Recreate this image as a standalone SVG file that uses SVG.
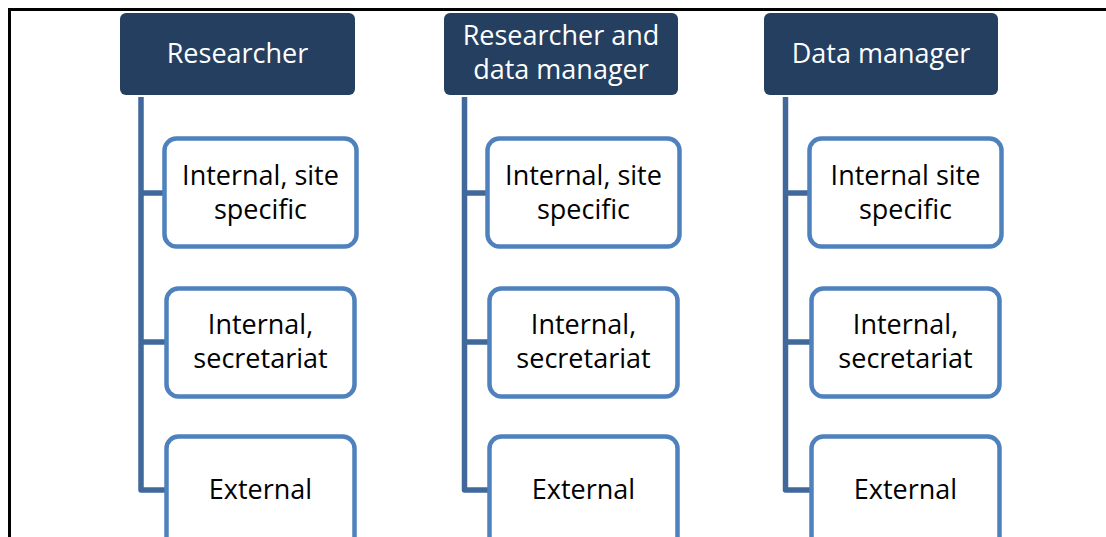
<svg xmlns="http://www.w3.org/2000/svg" width="1106" height="537" viewBox="0 0 1106 537">
<style>
.hdr{fill:#243F60;}
.hdr-t{fill:#FFFFFF;font-family:"Open Sans","Noto Sans","Liberation Sans",sans-serif;font-size:27px;text-anchor:middle;}
.box{fill:#FFFFFF;stroke:#4F81BD;stroke-width:4.5;}
.box-t{fill:#000000;font-family:"Open Sans","Noto Sans","Liberation Sans",sans-serif;font-size:27px;text-anchor:middle;}
.conn{fill:none;stroke:#41689B;stroke-width:5.5;stroke-linejoin:round;}
.frame{fill:none;stroke:#000000;stroke-width:3;}
</style>
<rect width="1106" height="537" fill="#FFFFFF"/>
<path class="frame" d="M9.5,537 V9.5 H1106"/>
<g id="connectors">
<path class="conn" d="M141,97 V490 H168 M141,193 H166 M141,342 H168"/>
<path class="conn" d="M464.5,97 V490 H491 M464.5,193 H489 M464.5,342 H491"/>
<path class="conn" d="M785.5,97 V490 H813 M785.5,193 H811 M785.5,342 H813"/>
</g>
<g id="h1"><rect class="hdr" x="120" y="13" width="235" height="82" rx="6"/><text class="hdr-t" x="237.5" y="63">Researcher</text></g>
<g id="h2"><rect class="hdr" x="444" y="13" width="234" height="82" rx="6"/><text class="hdr-t" x="561" y="45">Researcher and</text><text class="hdr-t" x="561" y="79">data manager</text></g>
<g id="h3"><rect class="hdr" x="764" y="13" width="234" height="82" rx="6"/><text class="hdr-t" x="881" y="63">Data manager</text></g>
<g id="c1r1"><rect class="box" x="164.5" y="138.5" width="192" height="108" rx="12"/><text class="box-t" x="260.5" y="185">Internal, site</text><text class="box-t" x="260.5" y="219">specific</text></g>
<g id="c1r2"><rect class="box" x="166.5" y="288.5" width="188" height="108" rx="12"/><text class="box-t" x="260.5" y="334">Internal,</text><text class="box-t" x="260.5" y="368">secretariat</text></g>
<g id="c1r3"><rect class="box" x="166.5" y="436.5" width="188" height="120" rx="12"/><text class="box-t" x="260.5" y="499">External</text></g>
<g id="c2r1"><rect class="box" x="487.5" y="138.5" width="192" height="108" rx="12"/><text class="box-t" x="583.5" y="185">Internal, site</text><text class="box-t" x="583.5" y="219">specific</text></g>
<g id="c2r2"><rect class="box" x="489.5" y="288.5" width="188" height="108" rx="12"/><text class="box-t" x="583.5" y="334">Internal,</text><text class="box-t" x="583.5" y="368">secretariat</text></g>
<g id="c2r3"><rect class="box" x="489.5" y="436.5" width="188" height="120" rx="12"/><text class="box-t" x="583.5" y="499">External</text></g>
<g id="c3r1"><rect class="box" x="809.5" y="138.5" width="192" height="108" rx="12"/><text class="box-t" x="905.5" y="185">Internal site</text><text class="box-t" x="905.5" y="219">specific</text></g>
<g id="c3r2"><rect class="box" x="811.5" y="288.5" width="188" height="108" rx="12"/><text class="box-t" x="905.5" y="334">Internal,</text><text class="box-t" x="905.5" y="368">secretariat</text></g>
<g id="c3r3"><rect class="box" x="811.5" y="436.5" width="188" height="120" rx="12"/><text class="box-t" x="905.5" y="499">External</text></g>
</svg>
